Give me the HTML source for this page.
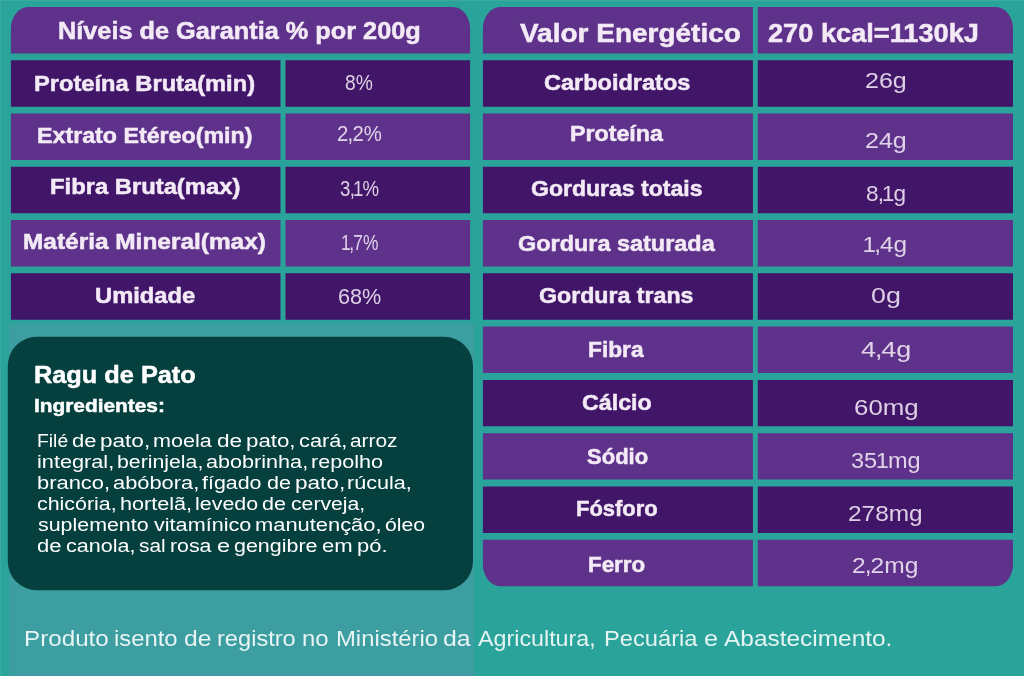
<!DOCTYPE html>
<html lang="pt-BR">
<head>
<meta charset="utf-8">
<title>Ragu de Pato - Informação Nutricional</title>
<style>
html,body{margin:0;padding:0;}
body{width:1024px;height:676px;overflow:hidden;position:relative;background:#2aa39b;font-family:"Liberation Sans",sans-serif;}
.a{position:absolute;}
.t{position:absolute;white-space:nowrap;line-height:1;transform-origin:0 0;}
.b{font-weight:bold;-webkit-text-stroke:0.5px currentColor;}
.g{opacity:.88;}
.o{margin:0 -.04em 0 -.06em;}.c{margin:0 -.04em;}
#tx{position:absolute;left:0;top:0;width:1024px;height:676px;will-change:transform;}
</style>
</head>
<body>
<svg class="a" style="left:0;top:0" width="1024" height="676" viewBox="0 0 1024 676">
<rect x="0" y="0" width="1024" height="1" fill="#ffffff" opacity="0.08"/>
<rect x="0" y="0" width="1" height="676" fill="#ffffff" opacity="0.08"/>
<rect x="8.9" y="324" width="465.3" height="352" fill="#3c9ea0"/>
<path fill="#5e328a" d="M27.90 7.00H453.10A17 22 0 0 1 470.10 29.00V53.45H10.90V29.00A17 22 0 0 1 27.90 7.00ZM10.90 113.54H280.50V159.99H10.90V113.54ZM285.50 113.54H470.10V159.99H285.50V113.54ZM10.90 220.08H280.50V266.53H10.90V220.08ZM285.50 220.08H470.10V266.53H285.50V220.08ZM499.90 7.00H752.90V53.45H482.90V29.00A17 22 0 0 1 499.90 7.00ZM757.80 7.00H996.00A17 22 0 0 1 1013.00 29.00V53.45H757.80V7.00ZM482.90 113.54H752.90V159.99H482.90V113.54ZM757.80 113.54H1013.00V159.99H757.80V113.54ZM482.90 220.08H752.90V266.53H482.90V220.08ZM757.80 220.08H1013.00V266.53H757.80V220.08ZM482.90 326.62H752.90V373.07H482.90V326.62ZM757.80 326.62H1013.00V373.07H757.80V326.62ZM482.90 433.16H752.90V479.61H482.90V433.16ZM757.80 433.16H1013.00V479.61H757.80V433.16ZM482.90 539.70H752.90V586.15H499.90A17 22 0 0 1 482.90 564.15V539.70ZM757.80 539.70H1013.00V564.15A17 22 0 0 1 996.00 586.15H757.80V539.70Z"/>
<path fill="#411568" d="M10.90 60.27H280.50V106.72H10.90V60.27ZM285.50 60.27H470.10V106.72H285.50V60.27ZM10.90 166.81H280.50V213.26H10.90V166.81ZM285.50 166.81H470.10V213.26H285.50V166.81ZM10.90 273.35H280.50V319.80H10.90V273.35ZM285.50 273.35H470.10V319.80H285.50V273.35ZM482.90 60.27H752.90V106.72H482.90V60.27ZM757.80 60.27H1013.00V106.72H757.80V60.27ZM482.90 166.81H752.90V213.26H482.90V166.81ZM757.80 166.81H1013.00V213.26H757.80V166.81ZM482.90 273.35H752.90V319.80H482.90V273.35ZM757.80 273.35H1013.00V319.80H757.80V273.35ZM482.90 379.89H752.90V426.34H482.90V379.89ZM757.80 379.89H1013.00V426.34H757.80V379.89ZM482.90 486.43H752.90V532.88H482.90V486.43ZM757.80 486.43H1013.00V532.88H757.80V486.43Z"/>
<path fill="#05403f" d="M36.80 336.80H444.00A29 29 0 0 1 473.00 365.80V561.30A29 29 0 0 1 444.00 590.30H36.80A29 29 0 0 1 7.80 561.30V365.80A29 29 0 0 1 36.80 336.80Z"/>
</svg>
<div id="tx">
<div class="t b" style="left:58.37px;top:20px;font-size:23.40px;color:#f3eaf6;transform:scaleX(1.0815);">Níveis de Garantia % por 200g</div>
<div class="t b" style="left:34.29px;top:74px;font-size:21.37px;color:#f3eaf6;transform:scaleX(1.1086);">Proteína Bruta(min)</div>
<div class="t b" style="left:37.02px;top:126px;font-size:21.37px;color:#f3eaf6;transform:scaleX(1.0871);">Extrato Etéreo(min)</div>
<div class="t b" style="left:49.88px;top:177px;font-size:21.37px;color:#f3eaf6;transform:scaleX(1.1135);">Fibra Bruta(max)</div>
<div class="t b" style="left:23.35px;top:232px;font-size:21.37px;color:#f3eaf6;transform:scaleX(1.1431);">Matéria Mineral(max)</div>
<div class="t b" style="left:95.15px;top:286px;font-size:21.37px;color:#f3eaf6;transform:scaleX(1.1104);">Umidade</div>
<div class="t g" style="left:345.27px;top:72px;font-size:21.61px;color:#f3eaf6;transform:scaleX(0.8902);">8%</div>
<div class="t g" style="left:336.78px;top:123px;font-size:21.61px;color:#f3eaf6;transform:scaleX(0.9426);">2<span class="c">,</span>2%</div>
<div class="t g" style="left:339.89px;top:178px;font-size:21.61px;color:#f3eaf6;transform:scaleX(0.8619);">3<span class="c">,</span><span class="o">1</span>%</div>
<div class="t g" style="left:341.52px;top:232px;font-size:21.61px;color:#f3eaf6;transform:scaleX(0.8013);"><span class="o">1</span><span class="c">,</span>7%</div>
<div class="t g" style="left:337.90px;top:286px;font-size:21.61px;color:#f3eaf6;transform:scaleX(0.9999);">68%</div>
<div class="t b" style="left:519.97px;top:20px;font-size:26.45px;color:#f3eaf6;transform:scaleX(1.0585);">Valor Energético</div>
<div class="t b" style="left:767.51px;top:21px;font-size:25.71px;color:#f3eaf6;transform:scaleX(1.0579);">270 kcal=1130kJ</div>
<div class="t b" style="left:543.81px;top:73px;font-size:21.37px;color:#f3eaf6;transform:scaleX(1.1011);">Carboidratos</div>
<div class="t b" style="left:569.72px;top:124px;font-size:21.37px;color:#f3eaf6;transform:scaleX(1.0867);">Proteína</div>
<div class="t b" style="left:531.03px;top:179px;font-size:21.37px;color:#f3eaf6;transform:scaleX(1.0780);">Gorduras totais</div>
<div class="t b" style="left:517.81px;top:234px;font-size:21.37px;color:#f3eaf6;transform:scaleX(1.0973);">Gordura saturada</div>
<div class="t b" style="left:539.22px;top:286px;font-size:21.37px;color:#f3eaf6;transform:scaleX(1.0844);">Gordura trans</div>
<div class="t b" style="left:588.34px;top:340px;font-size:21.37px;color:#f3eaf6;transform:scaleX(1.0636);">Fibra</div>
<div class="t b" style="left:582.12px;top:393px;font-size:21.37px;color:#f3eaf6;transform:scaleX(1.0874);">Cálcio</div>
<div class="t b" style="left:586.52px;top:447px;font-size:21.37px;color:#f3eaf6;transform:scaleX(1.0312);">Sódio</div>
<div class="t b" style="left:576.09px;top:499px;font-size:21.37px;color:#f3eaf6;transform:scaleX(1.0278);">Fósforo</div>
<div class="t b" style="left:588.36px;top:555px;font-size:21.37px;color:#f3eaf6;transform:scaleX(1.0464);">Ferro</div>
<div class="t g" style="left:864.65px;top:70px;font-size:21.61px;color:#f3eaf6;transform:scaleX(1.1579);">26g</div>
<div class="t g" style="left:864.65px;top:130px;font-size:21.61px;color:#f3eaf6;transform:scaleX(1.1579);">24g</div>
<div class="t g" style="left:866.23px;top:183px;font-size:21.61px;color:#f3eaf6;transform:scaleX(1.0464);">8<span class="c">,</span><span class="o">1</span>g</div>
<div class="t g" style="left:864.31px;top:234px;font-size:21.61px;color:#f3eaf6;transform:scaleX(1.1264);"><span class="o">1</span><span class="c">,</span>4g</div>
<div class="t g" style="left:870.75px;top:285px;font-size:21.61px;color:#f3eaf6;transform:scaleX(1.2421);">0g</div>
<div class="t g" style="left:860.98px;top:339px;font-size:21.61px;color:#f3eaf6;transform:scaleX(1.2470);">4<span class="c">,</span>4g</div>
<div class="t g" style="left:853.68px;top:397px;font-size:21.61px;color:#f3eaf6;transform:scaleX(1.1963);">60mg</div>
<div class="t g" style="left:851.11px;top:450px;font-size:21.61px;color:#f3eaf6;transform:scaleX(1.0881);">35<span class="o">1</span>mg</div>
<div class="t g" style="left:848.18px;top:503px;font-size:21.61px;color:#f3eaf6;transform:scaleX(1.1303);">278mg</div>
<div class="t g" style="left:852.47px;top:555px;font-size:21.61px;color:#f3eaf6;transform:scaleX(1.1358);">2<span class="c">,</span>2mg</div>
<div class="t b" style="left:34.07px;top:364px;font-size:23.40px;color:#ffffff;transform:scaleX(1.0821);">Ragu de Pato</div>
<div class="t b" style="left:34.38px;top:396px;font-size:19.19px;color:#ffffff;transform:scaleX(1.0861);">Ingredientes:</div>
<div class="t" style="left:36.62px;top:432px;font-size:18.75px;color:#ffffff;transform:scaleX(1.0304);">Filé </div>
<div class="t" style="left:71.78px;top:432px;font-size:18.75px;color:#ffffff;transform:scaleX(1.1692);">de </div>
<div class="t" style="left:100.33px;top:432px;font-size:18.75px;color:#ffffff;transform:scaleX(1.2036);">pato, </div>
<div class="t" style="left:152.67px;top:432px;font-size:18.75px;color:#ffffff;transform:scaleX(1.1517);">moela </div>
<div class="t" style="left:217.35px;top:432px;font-size:18.75px;color:#ffffff;transform:scaleX(1.2056);">de </div>
<div class="t" style="left:246.25px;top:432px;font-size:18.75px;color:#ffffff;transform:scaleX(1.1881);">pato, </div>
<div class="t" style="left:298.69px;top:432px;font-size:18.75px;color:#ffffff;transform:scaleX(1.1602);">cará, </div>
<div class="t" style="left:350.42px;top:432px;font-size:18.75px;color:#ffffff;transform:scaleX(1.1124);">arroz</div>
<div class="t" style="left:36.75px;top:453px;font-size:18.75px;color:#ffffff;transform:scaleX(1.1571);">integral, </div>
<div class="t" style="left:116.82px;top:453px;font-size:18.75px;color:#ffffff;transform:scaleX(1.1340);">berinjela, </div>
<div class="t" style="left:205.89px;top:453px;font-size:18.75px;color:#ffffff;transform:scaleX(1.1526);">abobrinha, </div>
<div class="t" style="left:310.88px;top:453px;font-size:18.75px;color:#ffffff;transform:scaleX(1.1514);">repolho</div>
<div class="t" style="left:36.78px;top:474px;font-size:18.75px;color:#ffffff;transform:scaleX(1.1686);">branco, </div>
<div class="t" style="left:112.78px;top:474px;font-size:18.75px;color:#ffffff;transform:scaleX(1.1655);">abóbora, </div>
<div class="t" style="left:202.40px;top:474px;font-size:18.75px;color:#ffffff;transform:scaleX(1.1412);">fígado </div>
<div class="t" style="left:266.70px;top:474px;font-size:18.75px;color:#ffffff;transform:scaleX(1.1484);">de </div>
<div class="t" style="left:294.83px;top:474px;font-size:18.75px;color:#ffffff;transform:scaleX(1.2036);">pato, </div>
<div class="t" style="left:347.38px;top:474px;font-size:18.75px;color:#ffffff;transform:scaleX(1.1507);">rúcula,</div>
<div class="t" style="left:37.30px;top:495px;font-size:18.75px;color:#ffffff;transform:scaleX(1.1417);">chicória, </div>
<div class="t" style="left:119.81px;top:495px;font-size:18.75px;color:#ffffff;transform:scaleX(1.1533);">hortelã, </div>
<div class="t" style="left:194.66px;top:495px;font-size:18.75px;color:#ffffff;transform:scaleX(1.1425);">levedo </div>
<div class="t" style="left:262.20px;top:495px;font-size:18.75px;color:#ffffff;transform:scaleX(1.1484);">de </div>
<div class="t" style="left:290.91px;top:495px;font-size:18.75px;color:#ffffff;transform:scaleX(1.1300);">cerveja,</div>
<div class="t" style="left:37.60px;top:516px;font-size:18.75px;color:#ffffff;transform:scaleX(1.1409);">suplemento </div>
<div class="t" style="left:154.01px;top:516px;font-size:18.75px;color:#ffffff;transform:scaleX(1.1527);">vitamínico </div>
<div class="t" style="left:255.46px;top:516px;font-size:18.75px;color:#ffffff;transform:scaleX(1.1668);">manutenção, </div>
<div class="t" style="left:384.81px;top:516px;font-size:18.75px;color:#ffffff;transform:scaleX(1.1306);">óleo</div>
<div class="t" style="left:37.28px;top:537px;font-size:18.75px;color:#ffffff;transform:scaleX(1.1744);">de </div>
<div class="t" style="left:65.99px;top:537px;font-size:18.75px;color:#ffffff;transform:scaleX(1.1501);">canola, </div>
<div class="t" style="left:139.12px;top:537px;font-size:18.75px;color:#ffffff;transform:scaleX(1.1089);">sal </div>
<div class="t" style="left:170.10px;top:537px;font-size:18.75px;color:#ffffff;transform:scaleX(1.1349);">rosa </div>
<div class="t" style="left:216.71px;top:537px;font-size:18.75px;color:#ffffff;transform:scaleX(1.2582);">e </div>
<div class="t" style="left:233.90px;top:537px;font-size:18.75px;color:#ffffff;transform:scaleX(1.1434);">gengibre </div>
<div class="t" style="left:322.07px;top:537px;font-size:18.75px;color:#ffffff;transform:scaleX(1.1781);">em </div>
<div class="t" style="left:356.97px;top:537px;font-size:18.75px;color:#ffffff;transform:scaleX(1.1703);">pó.</div>
<div class="t g" style="left:24.31px;top:628px;font-size:21.80px;color:#ffffff;transform:scaleX(1.1109);">Produto </div>
<div class="t g" style="left:113.70px;top:628px;font-size:21.80px;color:#ffffff;transform:scaleX(1.0933);">isento </div>
<div class="t g" style="left:183.66px;top:628px;font-size:21.80px;color:#ffffff;transform:scaleX(1.1309);">de </div>
<div class="t g" style="left:217.24px;top:628px;font-size:21.80px;color:#ffffff;transform:scaleX(1.0835);">registro </div>
<div class="t g" style="left:302.22px;top:628px;font-size:21.80px;color:#ffffff;transform:scaleX(1.0963);">no </div>
<div class="t g" style="left:335.84px;top:628px;font-size:21.80px;color:#ffffff;transform:scaleX(1.0943);">Ministério </div>
<div class="t g" style="left:442.96px;top:628px;font-size:21.80px;color:#ffffff;transform:scaleX(1.1401);">da </div>
<div class="t g" style="left:478.35px;top:628px;font-size:21.80px;color:#ffffff;transform:scaleX(1.0679);">Agricultura, </div>
<div class="t g" style="left:603.66px;top:628px;font-size:21.80px;color:#ffffff;transform:scaleX(1.0874);">Pecuária </div>
<div class="t g" style="left:703.64px;top:628px;font-size:21.80px;color:#ffffff;transform:scaleX(1.1614);">e </div>
<div class="t g" style="left:723.70px;top:628px;font-size:21.80px;color:#ffffff;transform:scaleX(1.1209);">Abastecimento.</div>
</div>
</body>
</html>
